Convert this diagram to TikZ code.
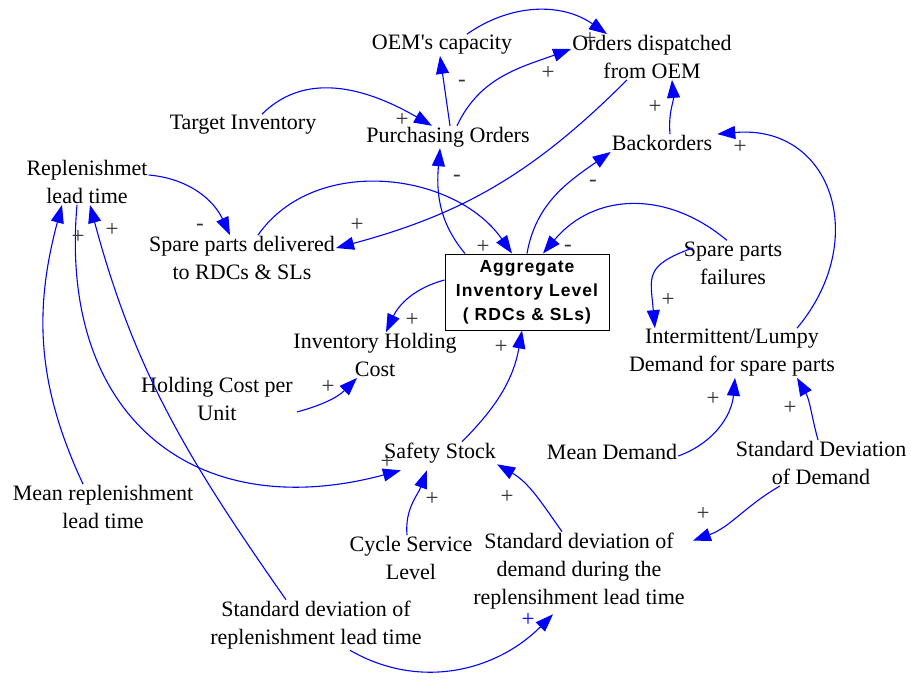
\documentclass[tikz,border=0pt]{standalone}
\usepackage{fontspec}
\setmainfont{Liberation Serif}
\newfontfamily\boxfont{Liberation Sans}[LetterSpace=6]
\usetikzlibrary{arrows.meta}
\definecolor{linkblue}{RGB}{0,0,255}
\definecolor{signgray}{RGB}{50,50,50}
\begin{document}
\begin{tikzpicture}[x=1pt,y=1pt,
 lbl/.style={font=\fontsize{22}{28}\selectfont, align=center, inner sep=1pt, text=black},
 aggbox/.style={draw=black, line width=1pt, fill=white, minimum width=164pt, minimum height=76pt, align=center, font=\boxfont\bfseries\fontsize{17.5}{24}\selectfont, inner sep=0pt},
 link/.style={draw=linkblue, line width=1.1pt, -{Triangle[length=18pt,width=13pt]}},
 sgn/.style={font=\fontsize{23}{24}\selectfont, text=signgray, inner sep=0pt},
]
\useasboundingbox (0,0) rectangle (911,-680);
% nodes
\node[lbl] (oemcap) at (442,-45) {OEM\textquotesingle s capacity};
\node[lbl] (ordd) at (652,-57) {Orders dispatched\\from OEM};
\node[lbl] (tinv) at (243,-125) {Target Inventory};
\node[lbl] (po) at (448,-137) {Purchasing Orders};
\node[lbl] (bo) at (662,-143) {Backorders};
\node[lbl] (rlt) at (87,-182) {Replenishmet\\lead time};
\node[lbl] (spd) at (242,-258) {Spare parts delivered\\to RDCs \& SLs};
\node[aggbox] (agg) at (527,-292) {Aggregate\\Inventory Level\\( RDCs \& SLs)};
\node[lbl] (spf) at (733,-263) {Spare parts\\failures};
\node[lbl] (ihc) at (375,-355) {Inventory Holding\\Cost};
\node[lbl] (ild) at (732,-353) {Intermittent/Lumpy\\Demand for spare parts};
\node[lbl] (hcu) at (217,-399) {Holding Cost per\\Unit};
\node[lbl] (ss) at (440,-453) {Safety Stock};
\node[lbl] (md) at (612,-452) {Mean Demand};
\node[lbl] (sdd) at (821,-463) {Standard Deviation\\of Demand};
\node[lbl] (mrlt) at (103,-507) {Mean replenishment\\lead time};
\node[lbl] (csl) at (411,-558) {Cycle Service\\Level};
\node[lbl] (sddlt) at (579,-571) {Standard deviation of\\demand during the\\replensihment lead time};
\node[lbl] (sdrlt) at (316,-625) {Standard deviation of\\replenishment lead time};
% links
\draw[link] ([xshift=25pt]oemcap.north) to[out=35,in=145] ([xshift=-45pt]ordd.north);
\draw[link] ([xshift=2pt]po.north) to ([xshift=-2pt]oemcap.south);
\draw[link] ([xshift=9pt]po.north) to[out=65,in=200] ([yshift=8pt]ordd.west);
\draw[link] ([xshift=19pt]tinv.north) to[out=45,in=150] ([xshift=-16pt]po.north);
\draw[link] ([xshift=-25pt]ordd.south) to[out=225,in=15] ([yshift=10pt]spd.east);
\draw[link] ([xshift=8pt]bo.north) to[out=95,in=-85] ([xshift=20pt]ordd.south);
\draw[link] ([xshift=-62pt]agg.north) to[out=130,in=265] ([xshift=-8pt]po.south);
\draw[link] (agg.north) to[out=80,in=215] (bo.south west);
\draw[link] ([xshift=16pt]spd.north) to[out=55,in=125] ([xshift=-15pt]agg.north);
\draw[link] ([xshift=-6pt]spf.north) to[out=140,in=50,looseness=1.1] ([xshift=16pt]agg.north);
\draw[link] ([xshift=65pt]ild.north) to[out=50,in=5,looseness=1.4] ([xshift=4pt]bo.north east);
\draw[link] ([xshift=10pt,yshift=15pt]spf.west) to[out=200,in=95,looseness=1.5] ([xshift=27pt]ild.north west);
\draw[link] ([yshift=12pt]agg.west) to[out=195,in=65] ([xshift=11pt]ihc.north);
\draw[link] ([xshift=3pt,yshift=10pt]hcu.south east) to[out=15,in=225] ([xshift=-18pt]ihc.south);
\draw[link] ([xshift=22pt]ss.north) to[out=45,in=260] ([xshift=-5pt]agg.south);
\draw[link] ([yshift=-4pt]md.east) to[out=20,in=265] ([xshift=3pt]ild.south);
\draw[link] ([xshift=-3pt]sdd.north) to[out=105,in=300] ([xshift=65pt]ild.south);
\draw[link] ([yshift=7pt]rlt.east) to[out=-5,in=115] ([xshift=-12pt]spd.north);
\draw[link] ([xshift=-20pt]mrlt.north) to[out=115,in=255] ([xshift=-25pt]rlt.south);
\draw[link] ([xshift=-30pt]sdrlt.north) to[out=125,in=285] ([xshift=3pt]rlt.south);
\draw[link] ([xshift=-10pt]rlt.south) to[out=265,in=195,looseness=1.3] ([xshift=18pt,yshift=-6pt]ss.south west);
\draw[link] ([xshift=-4pt]csl.north) to[out=95,in=250] ([xshift=44pt,yshift=-6pt]ss.south west);
\draw[link] ([xshift=-17pt]sddlt.north) to[out=125,in=330] (ss.south east);
\draw[link] ([xshift=-41pt]sdd.south) to[out=210,in=20] ([xshift=7pt,yshift=-9pt]sddlt.north east);
\draw[link] ([xshift=34pt]sdrlt.south) to[out=-30,in=225] ([xshift=-26pt,yshift=-4pt]sddlt.south);
% signs
\node[sgn] (s1) at (590,-39) {+};
\node[sgn] (s2) at (462,-83) {-};
\node[sgn] (s3) at (548,-73) {+};
\node[sgn] (s4) at (402,-120) {+};
\node[sgn] (s5) at (357,-225) {+};
\node[sgn] (s6) at (655,-107) {+};
\node[sgn] (s7) at (457,-178) {-};
\node[sgn] (s8) at (593,-183) {-};
\node[sgn] (s9) at (483,-247) {+};
\node[sgn] (s10) at (568,-248) {-};
\node[sgn] (s11) at (740,-147) {+};
\node[sgn] (s12) at (668,-300) {+};
\node[sgn] (s13) at (412,-320) {+};
\node[sgn] (s14) at (328,-387) {+};
\node[sgn] (s15) at (501,-347) {+};
\node[sgn] (s16) at (713,-399) {+};
\node[sgn] (s17) at (790,-408) {+};
\node[sgn] (s18) at (200,-227) {-};
\node[sgn] (s19) at (78,-237) {+};
\node[sgn] (s20) at (112,-230) {+};
\node[sgn] (s21) at (387,-462) {+};
\node[sgn] (s22) at (432,-499) {+};
\node[sgn] (s23) at (507,-497) {+};
\node[sgn] (s24) at (703,-514) {+};
\node[sgn,text=linkblue] (s25) at (528,-620) {+};
\end{tikzpicture}
\end{document}
